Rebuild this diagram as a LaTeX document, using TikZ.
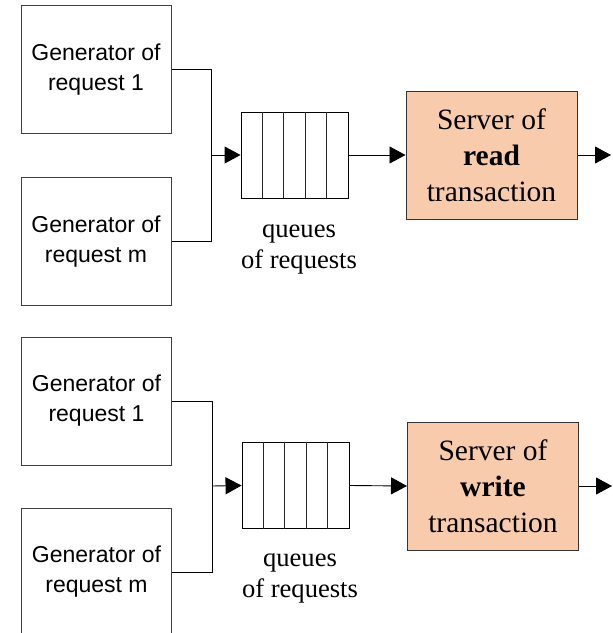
\documentclass[tikz,border=0pt]{standalone}
\usepackage{fontspec}
\setmainfont{Liberation Serif}
\newfontfamily\genfont{Liberation Sans}
\usetikzlibrary{arrows.meta,calc}
\definecolor{serverfill}{HTML}{F8CBAD}
\tikzset{
  genbox/.style={draw=black!75, line width=1pt, minimum width=150pt, minimum height=128pt,
    inner sep=0pt, align=center, font=\genfont\fontsize{23}{30}\selectfont},
  queuebox/.style={draw=black, line width=0.9pt, minimum width=107pt, minimum height=86pt, inner sep=0pt},
  serverbox/.style={draw=black!80, line width=1pt, fill=serverfill, minimum width=171pt, minimum height=128pt,
    inner sep=0pt, align=center, font=\fontsize{29.5}{36}\selectfont},
  qlabel/.style={align=center, inner sep=0pt, font=\fontsize{26.6}{31}\selectfont},
  conn/.style={line width=0.9pt, black},
  arr/.style={conn, -{Triangle[length=16pt,width=17pt]}},
  divider/.style={line width=0.9pt, black!85}
}
\begin{document}
\begin{tikzpicture}[x=1pt,y=-1pt]
\clip (0,0) rectangle (613,633);
\fill[white] (0,0) rectangle (613,633);
% ---------- top: read ----------
\node[genbox] (g1r) at (96,69.5) {Generator of\\request 1};
\node[genbox] (gmr) at (96,241.5) {Generator of\\request m};
\node[queuebox] (qr) at (294.5,155) {};
\foreach \k in {1,2,3,4}
  \draw[divider] ($(qr.south west)!\k/5!(qr.south east)$) -- ($(qr.north west)!\k/5!(qr.north east)$);
\node[qlabel, anchor=base] (qlr) at (299,268) {queues\\of requests};
\node[serverbox] (sr) at (491.5,155) {Server of\\\textbf{read}\\transaction};
\coordinate (jr) at (211,155);
\coordinate (outr) at (611,155);
\draw[conn] (g1r.east) -| (jr);
\draw[conn] (gmr.east) -| (jr);
\draw[arr] (jr) -- (qr.west);
\draw[arr] (qr.east) -- (sr.west);
\draw[arr] (sr.east) -- (outr);
% ---------- bottom: write ----------
\node[genbox] (g1w) at (96.5,401) {Generator of\\request 1};
\node[genbox] (gmw) at (96.5,572) {Generator of\\request m};
\node[queuebox] (qw) at (295.5,485.5) {};
\foreach \k in {1,2,3,4}
  \draw[divider] ($(qw.south west)!\k/5!(qw.south east)$) -- ($(qw.north west)!\k/5!(qw.north east)$);
\node[qlabel, anchor=base] (qlw) at (300,597) {queues\\of requests};
\node[serverbox] (sw) at (493,486) {Server of\\\textbf{write}\\transaction};
\coordinate (jw) at (212,486);
\coordinate (outw) at (612,486);
\draw[conn] (g1w.east) -| (jw);
\draw[conn] (gmw.east) -| (jw);
\draw[arr] (jw) -- (qw.west);
\draw[arr] (qw.east) -- (sw.west);
\draw[arr] (sw.east) -- (outw);
\end{tikzpicture}
\end{document}
